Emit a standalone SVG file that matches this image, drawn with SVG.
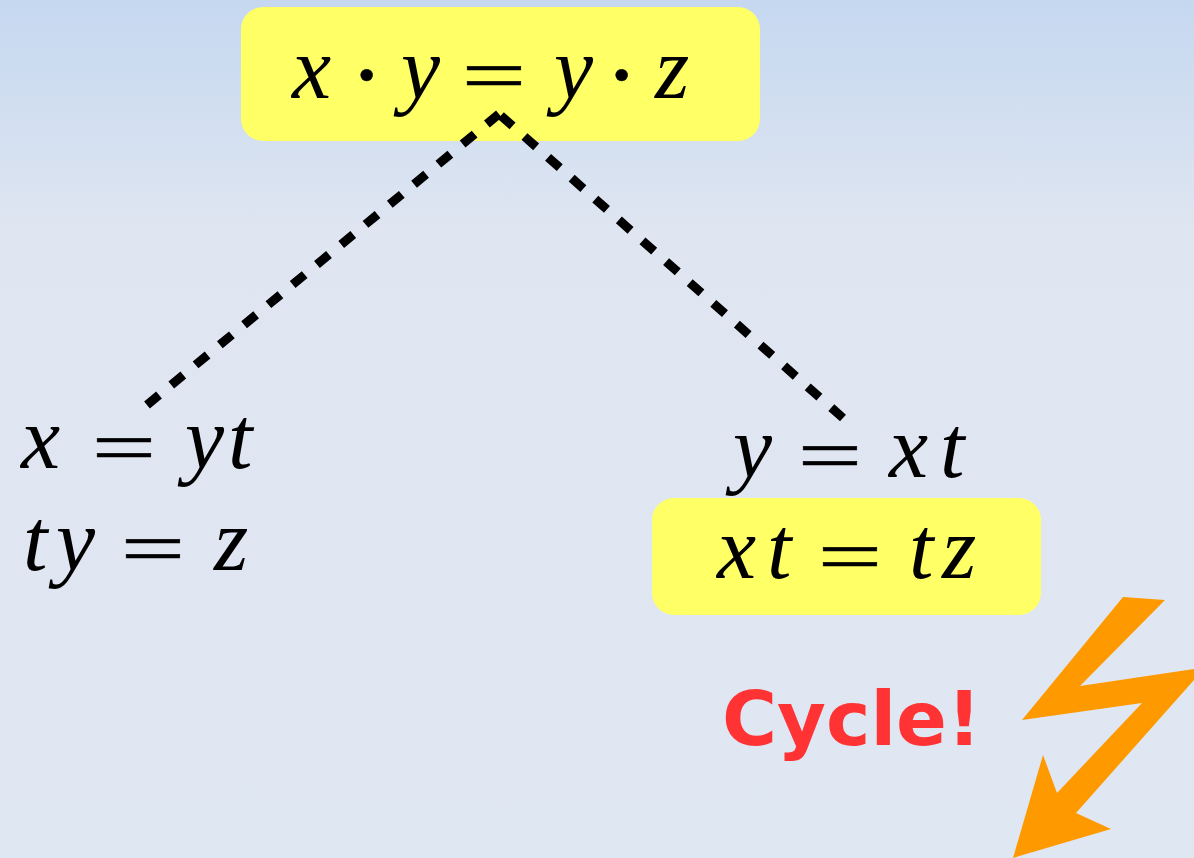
<svg xmlns="http://www.w3.org/2000/svg" width="1194" height="858" viewBox="0 0 1194 858">
<style>
.box{fill:#ffff66}
.m{font-family:"Liberation Serif",serif;font-style:italic;font-size:88px;fill:#000}
.e{font-family:"Liberation Serif",serif;font-size:100px;fill:#000;stroke:#000;stroke-width:.6}
.dash{fill:none;stroke:#000;stroke-width:9;stroke-dasharray:15.6 15.9}
</style>
<defs>
<linearGradient id="bg" x1="0" y1="0" x2="0" y2="1" gradientUnits="objectBoundingBox">
<stop offset="0" stop-color="#c5d8f0"/><stop offset="0.28" stop-color="#e0e6f1"/><stop offset="1" stop-color="#dfe7f2"/>
</linearGradient>
</defs>
<rect width="1194" height="858" fill="url(#bg)"/>
<g id="node-top">
<rect class="box" x="241" y="7" width="519" height="134" rx="22"/>
<text class="m" y="98" x="292">x</text>
<text class="e" y="108" x="350">·</text>
<text class="m" y="98" x="401">y</text>
<text class="e" transform="translate(461.5,100) scale(1.15,.74)">=</text>
<text class="m" y="98" x="554">y</text>
<text class="e" y="108" x="605">·</text>
<text class="m" y="98" x="655">z</text>
</g>
<g id="connectors">
<path class="dash" d="M147 405L499 114"/>
<path class="dash" d="M843 418L499 114"/>
</g>
<g id="node-left">
<text class="m" y="468" x="21">x</text>
<text class="e" transform="translate(91.5,471.5) scale(1.15,.74)">=</text>
<text class="m" y="468" x="185">y</text>
<text class="m" y="468" x="228">t</text>
<text class="m" y="570" x="23">t</text>
<text class="m" y="570" x="56">y</text>
<text class="e" transform="translate(120.5,572.5) scale(1.15,.74)">=</text>
<text class="m" y="570" x="214">z</text>
</g>
<g id="node-right-top">
<text class="m" y="477" x="733">y</text>
<text class="e" transform="translate(797.5,480) scale(1.15,.74)">=</text>
<text class="m" y="477" x="889">x</text>
<text class="m" y="477" x="940">t</text>
</g>
<g id="node-right-box">
<rect class="box" x="652" y="498" width="389" height="117" rx="22"/>
<text class="m" y="578" x="717">x</text>
<text class="m" y="578" x="767">t</text>
<text class="e" transform="translate(817.5,581) scale(1.15,.74)">=</text>
<text class="m" y="578" x="909">t</text>
<text class="m" y="578" x="942">z</text>
</g>
<g id="cycle">
<text x="722" y="745" font-family="DejaVu Sans,sans-serif" font-weight="700" font-size="75" fill="#ff3333">Cycle!</text>
<polygon fill="#ff9900" points="1123,597 1165,600 1080,686 1194,669 1194,680 1076,813 1111,829 1013,858 1043,755 1057,793 1142,703 1022,720"/>
</g>
</svg>
